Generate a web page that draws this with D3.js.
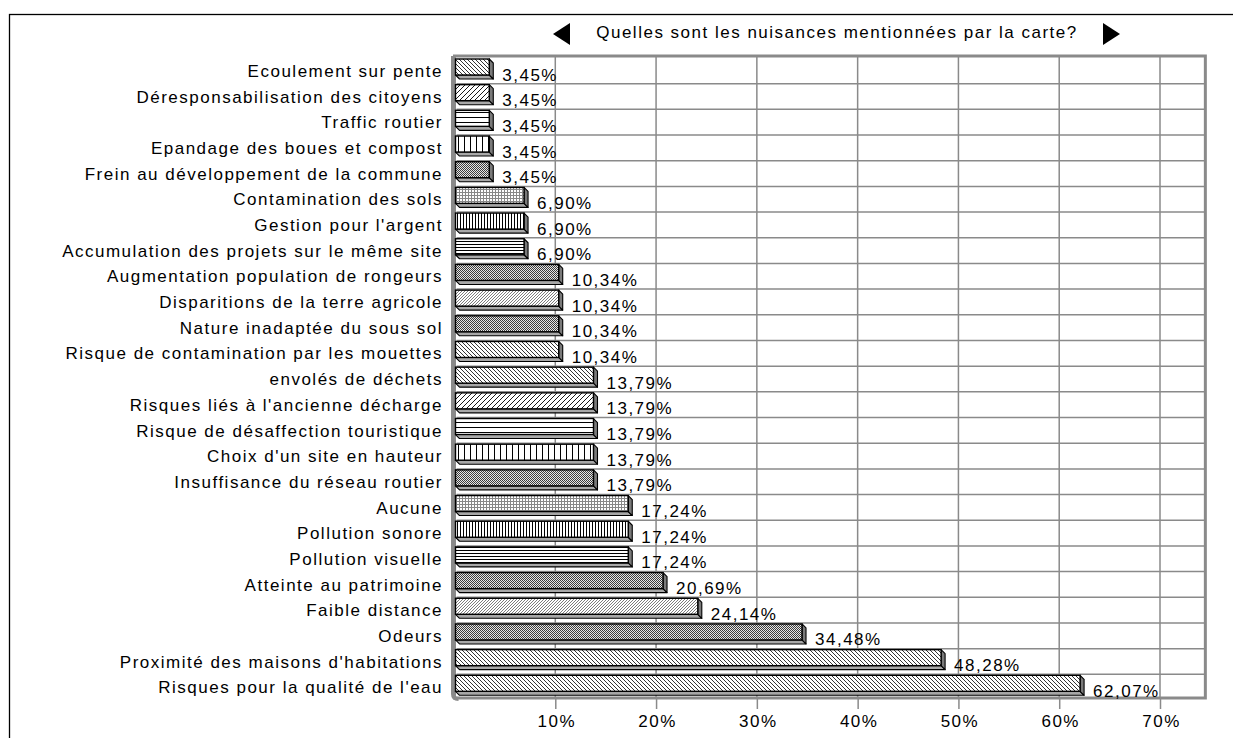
<!DOCTYPE html>
<html>
<head>
<meta charset="utf-8">
<script src="https://cdn.jsdelivr.net/npm/d3@7"></script>
<style>
  html, body { margin: 0; padding: 0; background: #fff; }
  svg { display: block; }
  text { font-family: "Liberation Sans", Arial, sans-serif; font-size: 17px; fill: #000; letter-spacing: 1.5px; }
</style>
</head>
<body>
<svg id="chart" width="1233" height="738"></svg>
<script>
// ---------- data ----------
const chartTitle = "Quelles sont les nuisances mentionnées par la carte?";
const categories = [
  "Ecoulement sur pente",
  "Déresponsabilisation des citoyens",
  "Traffic routier",
  "Epandage des boues et compost",
  "Frein au développement de la commune",
  "Contamination des sols",
  "Gestion pour l'argent",
  "Accumulation des projets sur le même site",
  "Augmentation population de rongeurs",
  "Disparitions de la terre agricole",
  "Nature inadaptée du sous sol",
  "Risque de contamination par les mouettes",
  "envolés de déchets",
  "Risques liés à l'ancienne décharge",
  "Risque de désaffection touristique",
  "Choix d'un site en hauteur",
  "Insuffisance du réseau routier",
  "Aucune",
  "Pollution sonore",
  "Pollution visuelle",
  "Atteinte au patrimoine",
  "Faible distance",
  "Odeurs",
  "Proximité des maisons d'habitations",
  "Risques pour la qualité de l'eau"
];
const values = [
  3.45, 3.45, 3.45, 3.45, 3.45,
  6.90, 6.90, 6.90,
  10.34, 10.34, 10.34, 10.34,
  13.79, 13.79, 13.79, 13.79, 13.79,
  17.24, 17.24, 17.24,
  20.69, 24.14, 34.48, 48.28, 62.07
];
const tickValues = [10, 20, 30, 40, 50, 60, 70];

// ---------- styles (pattern cycle, counted from the bottom series) ----------
const patternCycle = ["bdiag", "bdiag", "dots", "fdiagD", "dots", "hN", "vN", "grid", "dots", "vW", "hW", "fdiag"];

const svg = d3.select("#chart");
const defs = svg.append("defs");

function pat(id, w, h, draw) {
  const p = defs.append("pattern").attr("id", id).attr("patternUnits", "userSpaceOnUse")
    .attr("width", w).attr("height", h);
  p.append("rect").attr("width", w).attr("height", h).attr("fill", "#fff");
  draw(p);
}
pat("bdiag", 4, 4, p => p.append("path").attr("d", "M0,0L4,4M-1,3L1,5M3,-1L5,1").attr("stroke", "#000").attr("stroke-width", 0.8));
pat("fdiag", 5, 5, p => p.append("path").attr("d", "M0,5L5,0M-1,1L1,-1M4,6L6,4").attr("stroke", "#000").attr("stroke-width", 0.9));
pat("fdiagD", 3, 3, p => p.append("path").attr("d", "M0,3L3,0M-1,1L1,-1M2,4L4,2").attr("stroke", "#444").attr("stroke-width", 0.7));
pat("hW", 5, 5, p => p.append("rect").attr("x", 0).attr("y", 2).attr("width", 5).attr("height", 1).attr("fill", "#000"));
pat("hN", 3, 3, p => p.append("rect").attr("x", 0).attr("y", 1).attr("width", 3).attr("height", 1).attr("fill", "#000"));
pat("vW", 6, 6, p => p.append("rect").attr("x", 2).attr("y", 0).attr("width", 1).attr("height", 6).attr("fill", "#000"));
pat("vN", 3, 3, p => p.append("rect").attr("x", 1).attr("y", 0).attr("width", 1).attr("height", 3).attr("fill", "#000"));
pat("dots", 2, 2, p => {
  p.append("rect").attr("x", 0).attr("y", 0).attr("width", 1).attr("height", 1).attr("fill", "#3c3c3c");
  p.append("rect").attr("x", 1).attr("y", 1).attr("width", 1).attr("height", 1).attr("fill", "#3c3c3c");
  p.select("rect").attr("fill", "#e6e6e6");
});
pat("grid", 3, 3, p => {
  p.append("rect").attr("x", 0).attr("y", 0).attr("width", 3).attr("height", 1).attr("fill", "#888");
  p.append("rect").attr("x", 0).attr("y", 0).attr("width", 1).attr("height", 3).attr("fill", "#888");
});

// ---------- layout ----------
const plotTop = 56, plotBottom = 698;
const x = d3.scaleLinear().domain([0, 70]).range([454.5, 1160]);
const xMax = 74.5;
const y = d3.scaleBand().domain(categories).range([plotTop, plotBottom]);
const depth = 4, barH = 16, barOff = 3;

// outer frame
svg.append("rect").attr("x", 9.5).attr("y", 14.5).attr("width", 1300).attr("height", 800)
  .attr("fill", "none").attr("stroke", "#000").attr("stroke-width", 1.3);

// title + arrows
svg.append("text").attr("x", 837).attr("y", 38).attr("text-anchor", "middle").text(chartTitle);
svg.append("path").attr("d", "M553,34L570,23L570,45Z").attr("fill", "#000");
svg.append("path").attr("d", "M1103,23L1120,34L1103,45Z").attr("fill", "#000");

// back wall
const grid = svg.append("g").attr("stroke", "#8a8a8a").attr("fill", "none");
grid.selectAll("line.h").data(categories.slice(0, -1)).join("line")
  .attr("x1", x(0) + 2).attr("x2", x(xMax))
  .attr("y1", d => y(d) + y.step() + 2).attr("y2", d => y(d) + y.step() + 2)
  .attr("stroke-width", 1.5);
grid.selectAll("line.v").data(tickValues).join("line")
  .attr("x1", d => x(d)).attr("x2", d => x(d))
  .attr("y1", plotTop).attr("y2", plotBottom)
  .attr("stroke-width", 1.5);
svg.append("rect").attr("x", x(0)).attr("y", plotTop).attr("width", x(xMax) - x(0)).attr("height", plotBottom - plotTop)
  .attr("fill", "none").attr("stroke", "#8a8a8a").attr("stroke-width", 3);
// left side wall
svg.append("path")
  .attr("d", `M${x(0) - 1.5},${plotTop}L${x(0) - 1.5},${plotBottom - 4}Q${x(0) - 1.5},${plotBottom + 1} ${x(0) + 4},${plotBottom + 1}`)
  .attr("fill", "none").attr("stroke", "#8a8a8a").attr("stroke-width", 4);

// x axis
const axis = d3.axisBottom(x).tickValues(tickValues).tickFormat(d => d + "%").tickSize(11).tickPadding(5.5);
const ax = svg.append("g").attr("transform", `translate(0,${plotBottom})`).call(axis);
ax.select(".domain").remove();
ax.selectAll(".tick line").attr("stroke", "#8a8a8a").attr("stroke-width", 1.5);
ax.selectAll(".tick text").attr("font-family", null).attr("font-size", null).attr("fill", "#000")
  .attr("dx", "1px");

// category labels
svg.append("g").selectAll("text").data(categories).join("text")
  .attr("x", 443).attr("y", d => y(d) + barOff + 18).attr("text-anchor", "end").text(d => d);

// bars
const bars = svg.append("g").selectAll("g").data(categories).join("g");
bars.each(function (d, i) {
  const g = d3.select(this);
  const x0 = x(0) + 1, x1 = x(values[i]);
  const yt = y(d) + barOff, yb = yt + barH;
  const pid = patternCycle[(categories.length - 1 - i) % patternCycle.length];
  g.append("path").attr("d", `M${x0},${yb}L${x1},${yb}L${x1 + depth},${yb + depth}L${x0 + depth},${yb + depth}Z`)
    .attr("fill", "#a8a8a8").attr("stroke", "#000").attr("stroke-width", 1.1).attr("stroke-linejoin", "round");
  g.append("path").attr("d", `M${x1},${yt}L${x1 + depth},${yt + depth}L${x1 + depth},${yb + depth}L${x1},${yb}Z`)
    .attr("fill", "#7a7a7a").attr("stroke", "#000").attr("stroke-width", 1.1).attr("stroke-linejoin", "round");
  g.append("rect").attr("x", x0).attr("y", yt).attr("width", x1 - x0).attr("height", barH)
    .attr("fill", `url(#${pid})`).attr("stroke", "#000").attr("stroke-width", 1.4);
});

// value labels
svg.append("g").selectAll("text").data(categories).join("text")
  .attr("x", (d, i) => x(values[i]) + 13)
  .attr("y", d => y(d) + barOff + 21.5)
  .text((d, i) => values[i].toFixed(2).replace(".", ",") + "%");
</script>
</body>
</html>
